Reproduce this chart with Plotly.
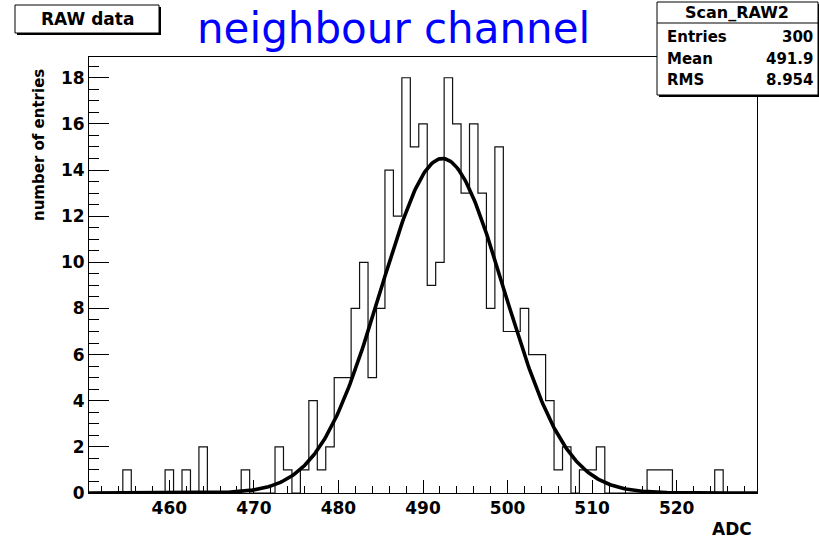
import numpy as np
import plotly.graph_objects as go

# ---- histogram: unit-wide ADC bins, centred on integers 451 ... 529 ----
adc_low = 450.5
adc_high = 529.5
counts = [
    0, 0, 0, 0, 1, 0, 0, 0, 0, 1,        # 451-460
    0, 1, 0, 2, 0, 0, 0, 0, 1, 0,        # 461-470
    0, 0, 2, 1, 0, 1, 4, 1, 2, 5,        # 471-480
    5, 8, 10, 5, 8, 14, 12, 18, 15, 16,  # 481-490
    9, 10, 18, 16, 13, 16, 13, 8, 15, 7, # 491-500
    7, 8, 6, 6, 4, 1, 2, 0, 1, 1,        # 501-510
    2, 0, 0, 0, 0, 0, 1, 1, 1, 0,        # 511-520
    0, 0, 0, 0, 1, 0, 0, 0, 0,           # 521-529
]

# gaussian fit parameters
gaus_constant = 14.5
gaus_mean = 492.3
gaus_sigma = 7.3

# statistics box
stats_name = "Scan_RAW2"
stats_labels = ["Entries", "Mean", "RMS"]
stats_values = ["300", "491.9", "8.954"]

title_text = "neighbour channel"
pave_text = "RAW data"
x_title = "ADC"
y_title = "number of entries"

# ---- geometry of the canvas (pixels) ----
W_PX, H_PX = 819, 539
L, R, T, B = 89, 757, 57, 493
PW, PH = R - L, B - T


def px(x):
    return (x - L) / PW


def py(y):
    return (B - y) / PH


FONT = "DejaVu Sans"

edges = adc_low + np.arange(len(counts) + 1)
step_y = counts + [counts[-1]]

fit_x = np.linspace(adc_low, adc_high, 500)
fit_y = gaus_constant * np.exp(-0.5 * ((fit_x - gaus_mean) / gaus_sigma) ** 2)

fig = go.Figure()
fig.add_trace(go.Scatter(
    x=edges, y=step_y, mode="lines", line_shape="hv",
    line=dict(color="#111111", width=1.2), hoverinfo="skip", showlegend=False,
))
fig.add_trace(go.Scatter(
    x=fit_x, y=fit_y, mode="lines",
    line=dict(color="black", width=3.6), hoverinfo="skip", showlegend=False,
))

tickfont = dict(family=FONT, size=17, color="black", weight="bold")

fig.update_layout(
    width=W_PX, height=H_PX,
    margin=dict(l=L, r=W_PX - R, t=T, b=H_PX - B, pad=0),
    paper_bgcolor="white", plot_bgcolor="white",
    showlegend=False,
    xaxis=dict(
        range=[adc_low, adc_high], tickmode="linear", tick0=0, dtick=10,
        ticks="inside", ticklen=13, tickwidth=1, tickcolor="black",
        showline=True, linecolor="black", linewidth=1, mirror=True,
        showgrid=False, zeroline=False, tickfont=tickfont,
        minor=dict(tick0=0, dtick=2, ticks="inside", ticklen=7,
                   tickwidth=1, tickcolor="black", showgrid=False),
    ),
    yaxis=dict(
        range=[0, 18.9], tickmode="linear", tick0=0, dtick=2,
        ticks="inside", ticklen=20, tickwidth=1, tickcolor="black",
        showline=True, linecolor="black", linewidth=1, mirror=True,
        showgrid=False, zeroline=False, tickfont=tickfont,
        minor=dict(tick0=0, dtick=0.5, ticks="inside", ticklen=10,
                   tickwidth=1, tickcolor="black", showgrid=False),
    ),
)

shapes = []
# "RAW data" pave with its shadow
shapes.append(dict(type="rect", xref="paper", yref="paper",
                   x0=px(17), x1=px(161), y0=py(35), y1=py(7),
                   fillcolor="black", line=dict(width=0), layer="above"))
shapes.append(dict(type="rect", xref="paper", yref="paper",
                   x0=px(15), x1=px(159), y0=py(33), y1=py(5),
                   fillcolor="white", line=dict(color="black", width=1), layer="above"))
# statistics box with its shadow
shapes.append(dict(type="rect", xref="paper", yref="paper",
                   x0=px(659), x1=px(822), y0=py(97), y1=py(4),
                   fillcolor="black", line=dict(width=0), layer="above"))
shapes.append(dict(type="rect", xref="paper", yref="paper",
                   x0=px(657), x1=px(818), y0=py(95), y1=py(2),
                   fillcolor="white", line=dict(color="black", width=1), layer="above"))
shapes.append(dict(type="line", xref="paper", yref="paper",
                   x0=px(657), x1=px(818), y0=py(23), y1=py(23),
                   line=dict(color="black", width=1), layer="above"))
fig.update_layout(shapes=shapes)

ann = []
ann.append(dict(text=title_text, x=px(393), y=py(29), xref="paper", yref="paper",
                xanchor="center", yanchor="middle", showarrow=False,
                font=dict(family=FONT, size=42, color="#0000ff")))
ann.append(dict(text=pave_text, x=px(87), y=py(19), xref="paper", yref="paper",
                xanchor="center", yanchor="middle", showarrow=False,
                font=dict(family=FONT, size=17, color="black", weight="bold")))
ann.append(dict(text=y_title, x=px(39), y=py(145), xref="paper", yref="paper",
                xanchor="center", yanchor="middle", showarrow=False, textangle=-90,
                font=dict(family=FONT, size=15, color="black", weight="bold")))
ann.append(dict(text=x_title, x=px(754), y=py(529), xref="paper", yref="paper",
                xanchor="right", yanchor="middle", showarrow=False,
                font=dict(family=FONT, size=17, color="black", weight="bold")))
ann.append(dict(text=stats_name, x=px(737), y=py(13), xref="paper", yref="paper",
                xanchor="center", yanchor="middle", showarrow=False,
                font=dict(family=FONT, size=16, color="black", weight="bold")))
for i, (lab, val) in enumerate(zip(stats_labels, stats_values)):
    yy = 37 + i * 21.5
    ann.append(dict(text=lab, x=px(665), y=py(yy), xref="paper", yref="paper",
                    xanchor="left", yanchor="middle", showarrow=False,
                    font=dict(family=FONT, size=15, color="black", weight="bold")))
    ann.append(dict(text=val, x=px(815), y=py(yy), xref="paper", yref="paper",
                    xanchor="right", yanchor="middle", showarrow=False,
                    font=dict(family=FONT, size=15, color="black", weight="bold")))
fig.update_layout(annotations=ann)

fig.write_html("out.html")
